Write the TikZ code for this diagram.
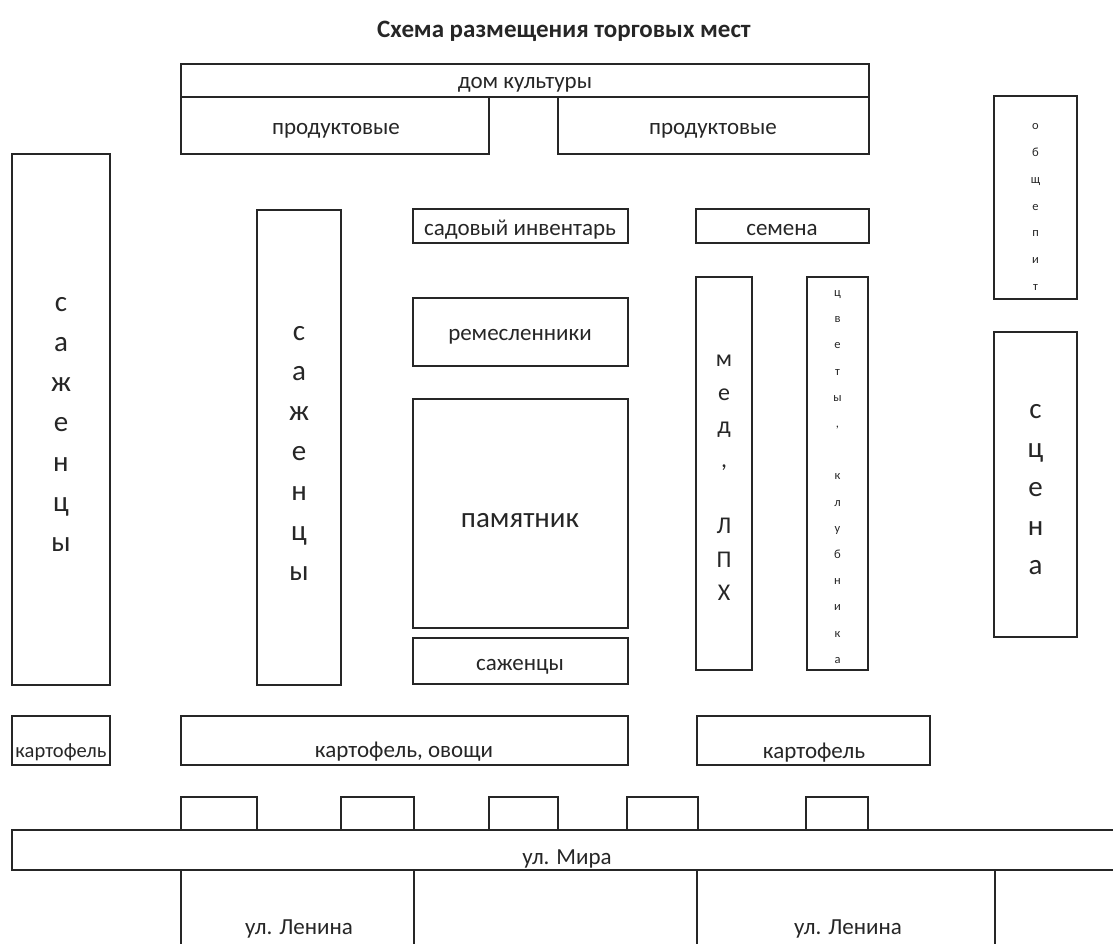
\documentclass[tikz,border=0pt]{standalone}
\usepackage{fontspec}
\setmainfont{Carlito}
\begin{document}
\begin{tikzpicture}[x=1pt,y=-1pt,font=\fontsize{23}{27}\selectfont,text=black!85,
    stall/.style={draw=black!85,line width=2.2pt},
    street/.style={draw=black!85,line width=1.5pt},
    vert/.style={align=center,inner sep=0pt}]
  \useasboundingbox (0,0) rectangle (1113,944);
  \node [font=\bfseries\fontsize{25}{29}\selectfont] (title) at (564,31) {Схема размещения торговых мест};
  \draw [stall] (181,64) rectangle (869,97);
  \node (dk) at (525,85) {дом культуры};
  \draw [stall] (181,97) rectangle (489,154);
  \node (prodL) at (336,131) {продуктовые};
  \draw [stall] (558,97) rectangle (869,154);
  \node (prodR) at (713,131) {продуктовые};
  \draw [stall] (994,96) rectangle (1077,299);
  \node [vert,font=\fontsize{12.5}{26.8}\selectfont] (obsh) at (1035.5,207) {о\\б\\щ\\е\\п\\и\\т};
  \draw [stall] (994,332) rectangle (1077,637);
  \node [vert,font=\fontsize{29}{39}\selectfont] (scena) at (1035.5,490) {с\\ц\\е\\н\\а};
  \draw [stall] (12,154) rectangle (110,685);
  \node [vert,font=\fontsize{29}{40}\selectfont] (sazhA) at (61,424) {с\\а\\ж\\е\\н\\ц\\ы};
  \draw [stall] (257,210) rectangle (341,685);
  \node [vert,font=\fontsize{29}{40}\selectfont] (sazhB) at (299,453) {с\\а\\ж\\е\\н\\ц\\ы};
  \draw [stall] (413,209) rectangle (628,243);
  \node (sad) at (520,230) {садовый инвентарь};
  \draw [stall] (696,209) rectangle (869,243);
  \node (sem) at (782,230) {семена};
  \draw [stall] (413,298) rectangle (628,366);
  \node (rem) at (520,337) {ремесленники};
  \draw [stall] (413,399) rectangle (628,628);
  \node [font=\fontsize{29}{34}\selectfont] (pam) at (520,521) {памятник};
  \draw [stall] (413,638) rectangle (628,684);
  \node (sazhC) at (520,667) {саженцы};
  \draw [stall] (696,277) rectangle (752,670);
  \node [vert,font=\fontsize{24}{33.4}\selectfont] (med) at (724,478) {м\\е\\д\\,\\\mbox{}\\Л\\П\\Х};
  \draw [stall] (807,277) rectangle (868,670);
  \node [vert,font=\fontsize{12.5}{26.2}\selectfont] (cvety) at (837.5,477) {ц\\в\\е\\т\\ы\\,\\\mbox{}\\к\\л\\у\\б\\н\\и\\к\\а};
  \draw [stall] (12,716) rectangle (110,765);
  \node [font=\fontsize{20.5}{24}\selectfont] (kartA) at (61,752) {картофель};
  \draw [stall] (181,716) rectangle (628,765);
  \node (kartB) at (404,752) {картофель, овощи};
  \draw [stall] (697,716) rectangle (930,765);
  \node (kartC) at (814,753) {картофель};
  \foreach \a/\b in {181/257,341/414,489/558,627/698,806/868}
    \draw [stall] (\a,830) -- (\a,797) -- (\b,797) -- (\b,830);
  \draw [stall] (1113,830) -- (12,830) -- (12,870) -- (1113,870);
  \node (mira) at (567,859) {ул. Мира};
  \foreach \x in {181,414,697,995}
    \draw [street] (\x,870) -- (\x,944);
  \node (leninA) at (299,929) {ул. Ленина};
  \node (leninB) at (848,929) {ул. Ленина};
\end{tikzpicture}
\end{document}
